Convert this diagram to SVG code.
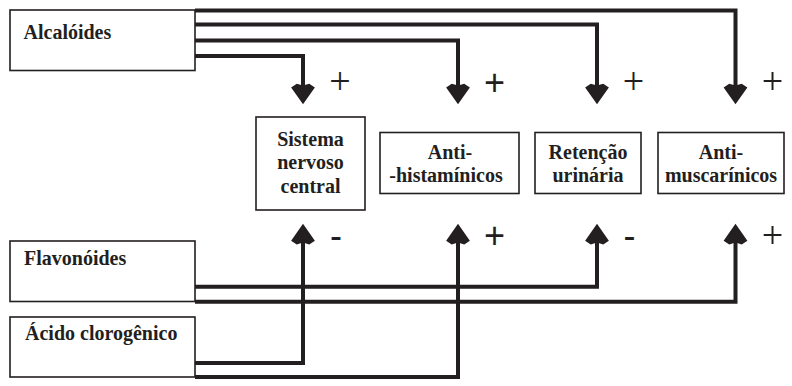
<svg xmlns="http://www.w3.org/2000/svg" width="792" height="386" viewBox="0 0 792 386">
<style>
.box{fill:#fff;stroke:#231f20;stroke-width:1.6}
.lbl{font-family:"Liberation Serif","Times New Roman",serif;font-weight:bold;font-size:20px;fill:#231f20}
.mid{text-anchor:middle}
.con{fill:none;stroke:#231f20;stroke-width:4;marker-end:url(#ah)}
.pt{font-family:"Liberation Serif","Times New Roman",serif;font-size:38px;fill:#231f20;text-anchor:middle}
.pb{font-family:"Liberation Sans",Arial,sans-serif;font-size:36px;fill:#231f20;text-anchor:middle}
</style>
<defs>
<marker id="ah" markerUnits="userSpaceOnUse" orient="auto" refX="0" refY="0" markerWidth="30" markerHeight="30" viewBox="-5 -12 20 24" overflow="visible">
<path d="M13,0 L-0.5,-9.5 L-3.5,-5 L-2,0 L-3.5,5 L-0.5,9.5 Z" fill="#231f20"/>
</marker>
</defs>
<rect width="792" height="386" fill="#fff"/>
<g id="connectors">
<path class="con" d="M195,56 H303 V88"/>
<path class="con" d="M195,40.5 H458 V88"/>
<path class="con" d="M195,24.5 H597 V88"/>
<path class="con" d="M195,10.5 H735.5 V88"/>
<path class="con" d="M195,286.7 H597 V240"/>
<path class="con" d="M195,301.7 H735.5 V240"/>
<path class="con" d="M195,363 H303 V240"/>
<path class="con" d="M195,377 H458 V240"/>
</g>
<g id="alcaloides">
<rect class="box" x="10" y="10" width="185" height="60.5"/>
<text class="lbl" x="23.5" y="39">Alcalóides</text>
</g>
<g id="flavonoides">
<rect class="box" x="10" y="241" width="185" height="60.5"/>
<text class="lbl" x="24" y="265">Flavonóides</text>
</g>
<g id="acido">
<rect class="box" x="10" y="317" width="185" height="60"/>
<text class="lbl" x="25" y="340">Ácido clorogênico</text>
</g>
<g id="snc">
<rect class="box" x="256" y="117" width="109" height="93"/>
<text class="lbl mid" x="310.5" y="145.5">Sistema</text>
<text class="lbl mid" x="310.5" y="169">nervoso</text>
<text class="lbl mid" x="310.5" y="192.5">central</text>
</g>
<g id="antihist">
<rect class="box" x="380" y="132.5" width="139" height="61"/>
<text class="lbl mid" x="450" y="158.5">Anti-</text>
<text class="lbl mid" x="446" y="182">-histamínicos</text>
</g>
<g id="retencao">
<rect class="box" x="535" y="132.5" width="106" height="61"/>
<text class="lbl mid" x="588" y="158.5">Retenção</text>
<text class="lbl mid" x="588" y="182">urinária</text>
</g>
<g id="antimusc">
<rect class="box" x="658" y="132.5" width="126" height="61"/>
<text class="lbl mid" x="721" y="158.5">Anti-</text>
<text class="lbl mid" x="721" y="182">muscarínicos</text>
</g>
<g id="signs">
<text class="pt" x="340" y="94">+</text>
<text class="pb" x="494.5" y="95">+</text>
<text class="pt" x="633.5" y="94">+</text>
<text class="pt" x="772.5" y="94">+</text>
<text class="pb" x="336" y="248">-</text>
<text class="pb" x="494.5" y="248">+</text>
<text class="pb" x="629.5" y="248">-</text>
<text class="pt" x="772.5" y="248">+</text>
</g>
</svg>
